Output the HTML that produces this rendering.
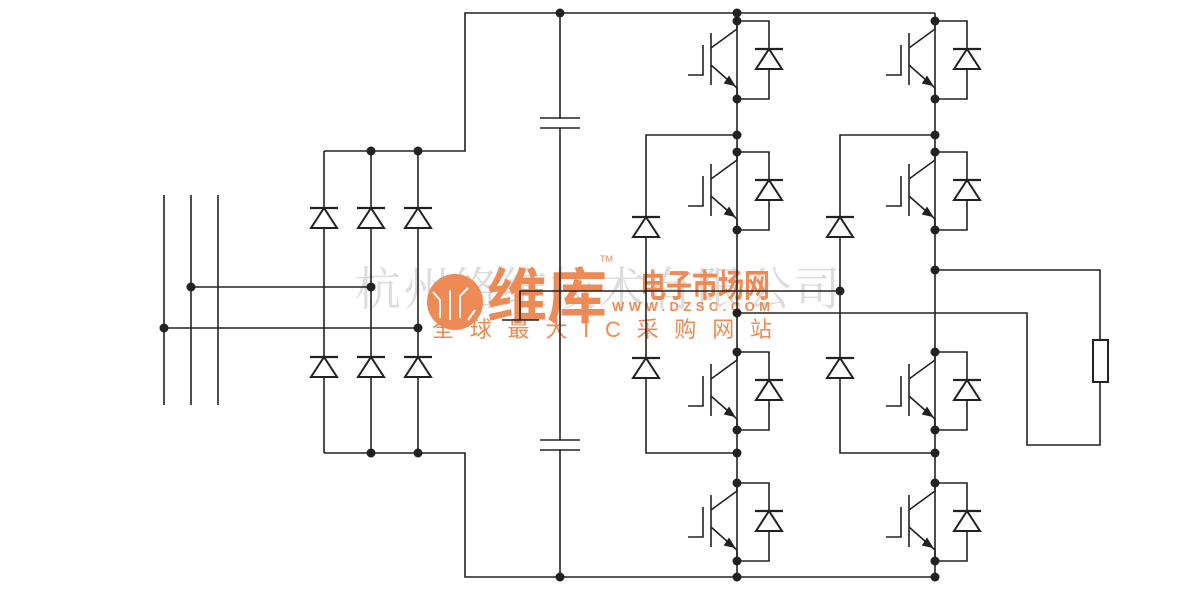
<!DOCTYPE html>
<html><head><meta charset="utf-8"><style>
body{margin:0;background:#fff;}
svg{display:block}
</style></head><body>
<svg id="s" width="1200" height="593" viewBox="0 0 1200 593" xmlns="http://www.w3.org/2000/svg">
<g id="wm" font-family="'Liberation Sans','Noto Sans CJK SC',sans-serif">
<text x="355" y="305" font-size="46" fill="#dcdcdc" font-family="'Noto Serif CJK SC',serif" textLength="485">杭州络维技术有限公司</text>
<circle cx="455" cy="302" r="28" fill="#ee8a55"/>
<g stroke="#fff" stroke-width="2" fill="none"><path d="M440 318V300L433 292M450 320V290M460 318V296L468 288M468 320L475 310"/></g>
<text x="487" y="318" font-size="60" font-weight="bold" fill="#ee8a55">维库</text>
<text transform="translate(640 297) scale(1 1.25)" x="0" y="0" font-size="26" font-weight="bold" fill="#ee8a55">电子市场网</text>
<text x="600" y="262" font-size="9" fill="#ee8a55">TM</text>
<text x="612" y="311" font-size="13" font-weight="bold" fill="#ee8a55" textLength="158">WWW.DZSC.COM</text>
<text x="432" y="337" font-size="22" fill="#ee8a55" textLength="340">全球最大IC采购网站</text>
</g>
<g id="c" stroke="#222" stroke-width="1.6" fill="none"></g>
<g id="d" fill="#222"></g>
</svg>
<script>
var c=document.getElementById('c'),d=document.getElementById('d'),NS='http://www.w3.org/2000/svg';
function P(p){var e=document.createElementNS(NS,'path');e.setAttribute('d',p);c.appendChild(e);}
function D(x,y){var e=document.createElementNS(NS,'circle');e.setAttribute('cx',x);e.setAttribute('cy',y);e.setAttribute('r',4.5);d.appendChild(e);}
function Diode(x,y){
 var e=document.createElementNS(NS,'path');e.setAttribute('d','M'+x+' '+y+'L'+(x-13)+' '+(y+20)+'H'+(x+13)+'Z');e.setAttribute('fill','#fff');e.setAttribute('stroke','#222');e.setAttribute('stroke-width','2');c.appendChild(e);
 var b=document.createElementNS(NS,'path');b.setAttribute('d','M'+(x-14)+' '+y+'H'+(x+14));b.setAttribute('stroke-width','2.2');b.setAttribute('stroke','#222');c.appendChild(b);
}
function IGBT(X,C){
 var E=C+78;
 P('M'+X+' '+C+'V'+(C+8)+'L'+(X-26)+' '+(C+27));
 P('M'+(X-26)+' '+(C+12)+'V'+(C+64));
 P('M'+(X-34)+' '+(C+24)+'V'+(C+54)+'H'+(X-49));
 P('M'+(X-26)+' '+(C+44)+'L'+X+' '+(C+67)+'V'+E);
 var a=document.createElementNS(NS,'path');a.setAttribute('d','M'+(X-3)+' '+(C+64)+'l-9 -2 l4 -6z');a.setAttribute('fill','#222');c.appendChild(a);
 P('M'+X+' '+C+'H'+(X+32)+'V'+E+'H'+X);
 Diode(X+32,C+28);
 D(X,C);D(X,E);
}
P('M164 195V405M191 195V405M218 195V405');
P('M191 287H371M164 328H418');D(191,287);D(164,328);D(371,287);D(418,328);
P('M324 151V453M371 151V453M418 151V453M324 151H465V13H935M324 453H465V577H935');
[324,371,418].forEach(function(x){Diode(x,208);Diode(x,357);});
D(371,151);D(418,151);D(371,453);D(418,453);
P('M560 13V118M560 128V440M560 450V577M540 118H580M540 128H580M540 440H580M540 450H580');
P('M520 320V291H840M502 320H539');
D(560,13);D(560,577);
[737,935].forEach(function(X){
 P('M'+X+' 13V577');
 IGBT(X,21);IGBT(X,152);IGBT(X,352);IGBT(X,483);
 D(X,135);D(X,453);
});
D(737,13);D(737,577);D(935,577);
P('M737 135H646V453H737M935 135H840V453H935');
[646,840].forEach(function(x){Diode(x,217);Diode(x,358);});
D(840,291);
P('M737 313H1027V445H1100V382M935 270H1100V340');D(737,313);D(935,270);
var r=document.createElementNS(NS,'rect');r.setAttribute('x',1093);r.setAttribute('y',340);r.setAttribute('width',15);r.setAttribute('height',42);r.setAttribute('fill','#fff');r.setAttribute('stroke','#222');r.setAttribute('stroke-width','2');c.appendChild(r);
</script>
</body></html>
